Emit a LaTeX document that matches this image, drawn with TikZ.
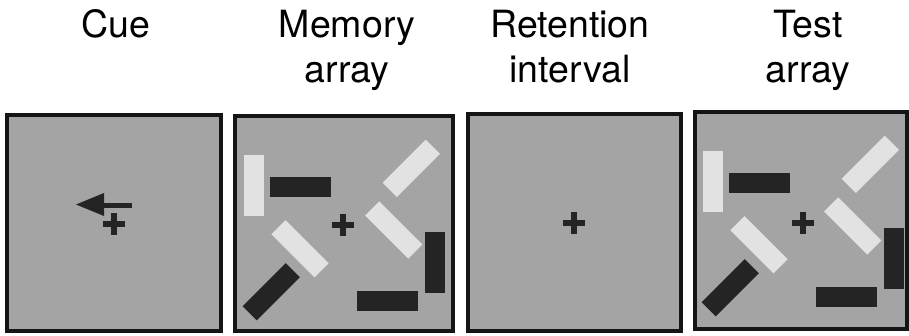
\documentclass[tikz,border=0pt]{standalone}
\usepackage{fontspec}
\setmainfont{TeX Gyre Heros}
\definecolor{screen}{HTML}{A4A4A4}
\definecolor{lightbar}{HTML}{E2E2E2}
\definecolor{darkbar}{HTML}{242424}
\definecolor{frame}{HTML}{151515}
\tikzset{
  panel/.style={draw=frame, line width=4pt, fill=screen},
  title/.style={anchor=base, inner sep=0pt, font=\fontsize{37.5}{45}\selectfont},
  lbar/.style={fill=lightbar, draw=none, minimum width=61pt, minimum height=20pt, inner sep=0pt},
  dbar/.style={fill=darkbar, draw=none, minimum width=61pt, minimum height=20pt, inner sep=0pt},
  crossarm/.style={fill=darkbar, draw=none, inner sep=0pt},
}
% a fixation cross centred at the given point
\newcommand{\fixcross}[2]{%
  \node[crossarm, minimum width=22pt, minimum height=5.5pt] (#1h) at (#2) {};
  \node[crossarm, minimum width=5.5pt, minimum height=22pt] (#1v) at (#2) {};
}
% the eight bars of a memory/test display, placed relative to (#1)
\newcommand{\bararray}[2]{%
  \begin{scope}[shift={(#2)}]
    \node[lbar, rotate=90]  (#1a) at (19.5,71)   {};
    \node[dbar]             (#1b) at (66.7,72.7) {};
    \node[lbar, rotate=45]  (#1c) at (177.3,54.3){};
    \node[lbar, rotate=-45] (#1d) at (159.7,116) {};
    \node[dbar, rotate=90]  (#1e) at (201.3,148) {};
    \node[dbar]             (#1f) at (153,187)   {};
    \node[lbar, rotate=-45] (#1g) at (66,134.7)  {};
    \node[dbar, rotate=45]  (#1h) at (37.3,177.7){};
  \end{scope}
}
\begin{document}
\begin{tikzpicture}[x=1pt, y=-1pt]
  \useasboundingbox (0,0) rectangle (909,335);

  % titles
  \node[title] (t1) at (116,37) {Cue};
  \node[title] (t2a) at (347,37) {Memory};
  \node[title] (t2b) at (347,82) {array};
  \node[title] (t3a) at (570,37) {Retention};
  \node[title] (t3b) at (570,82) {interval};
  \node[title] (t4a) at (808,37) {Test};
  \node[title] (t4b) at (808,82) {array};

  % display screens
  \draw[panel] (7,115) rectangle (221,331);
  \draw[panel] (235,116) rectangle (453,331);
  \draw[panel] (468,114) rectangle (681,331);
  \draw[panel] (695,112) rectangle (907,329);

  % cue: leftward arrow above fixation
  \fill[darkbar] (132,202.5) -- (101,202.5) -- (101,207.5) -- (132,207.5) -- cycle;
  \fill[darkbar] (76,204.5) -- (104,193) -- (104,216) -- cycle;
  \fixcross{fa}{114,224}

  % memory array
  \bararray{m}{234,114}
  \fixcross{fb}{343,225}

  % retention interval
  \fixcross{fc}{574,223}

  % test array
  \bararray{s}{693,110}
  \fixcross{fd}{803,223}
\end{tikzpicture}
\end{document}
